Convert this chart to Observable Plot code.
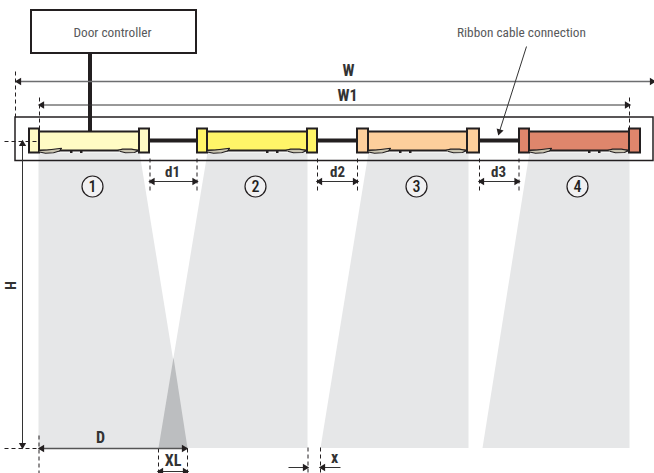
<!DOCTYPE html>
<html><head><meta charset="utf-8">
<script src="https://cdn.jsdelivr.net/npm/d3@7"></script>
<script src="https://cdn.jsdelivr.net/npm/@observablehq/plot@0.6"></script>
<style>html,body{margin:0;padding:0;background:#fff}svg{display:block}</style>
</head><body><div id="chart"></div>
<script>
// Diagram geometry, in reference drawing units
const sensorLabels = ["1","2","3","4"];
const sensorCapLeft = [29,197,357,519];
const sensorBodyLeft = [39,207,368,529];
const sensorBodyRight = [139,307,467,629];
const sensorCapRight = [149,317,479,640];
const sensorFills = ["#fffbc4","#fff568","#fdcf9c","#df866c"];
const circleX = [92,255,416,577];
const beams = [
  [[38,152],[139,152],[187,447.5],[38,447.5]],
  [[207,152],[307,152],[307,447.5],[158,447.5]],
  [[368,152],[468,152],[468,447.5],[320,447.5]],
  [[529,152],[629,152],[629,447.5],[482,447.5]]
];
const overlap = [[173,357],[187,447.5],[158,447.5]];
const cables = [[89.5,53,89.5,131],[149,140,197,140],[317,140,357,140],[479,140,519,140]];
const dashed = [
  [15,71,15,117],[39,97,39,130],[629,97,629,130],
  [4,141,37,141],[4,448,38,448],
  [149.5,158,149.5,192],[196.5,158,196.5,192],
  [317,158,317,192],[357,158,357,192],
  [479,158,479,192],[518.5,158,518.5,192],
  [38.5,435,38.5,473],[158,448,158,473],[187,448,187,473],
  [307.5,447,307.5,473],[320,447,320,473]
];
const dimLines = [
  [16,81,654,81,"#6d6e70",1.6],[39,104.5,629,104.5,"#333",1],
  [22,141,22,447,"#333",1],
  [149.5,181,196.5,181,"#333",1],[317,181,357,181,"#333",1],[479,181,518.5,181,"#333",1],
  [39,448,186,448,"#555",1.4],[158,471,187,471,"#333",1],
  [288,467,307,467,"#333",1],[320,467,340,467,"#333",1],
  [526,46,498,134,"#333",1]
];
// arrow tips: x, y, direction in degrees (0 = up)
const arrowTips = [
  [18.5,81,-90],[651.5,81,90],[41.5,104.5,-90],[626.5,104.5,90],
  [22,143.5,0],[22,444.5,180],
  [152,181,-90],[194,181,90],[319.5,181,-90],[354.5,181,90],[481.5,181,-90],[516,181,90],
  [41.5,448,-90],[183.5,448,90],[160.5,471,-90],[184.5,471,90],
  [304.5,467,90],[322.5,467,-90],[499,131,197]
];
const lensOffsetsLeft = [[0,150],[8,149.5],[22,147.8],[20,150.5],[14,152.3],[6,152.8],[0,151.5]];
const lensOffsetsRight = [[-22,150],[-17,148.6],[-8,148.6],[-1,150],[-5,152],[-14,152.3],[-19,151]];
const tickOffsets = [31,41];
const regularLabels = [
  ["Door controller",112,32,13.3],
  ["Ribbon cable connection",521,32,13.3]
];
const boldLabels = [
  ["W",348,70,16,0],["W1",347,95,16,0],
  ["d1",172,172,15,0],["d2",337,172,15,0],["d3",498,172,15,0],
  ["H",11,285,14,-90],
  ["D",100,437,16,0],["XL",172.5,460,16,0],["x",334,457,16,0]
];
const font = "'Roboto Condensed','Liberation Sans',sans-serif";
const seg = a => ({x1:a[0],y1:a[1],x2:a[2],y2:a[3],c:a[4],w:a[5]});
const ink = "#231f20";

const caps = sensorLabels.flatMap((s,i)=>[
  {x1:sensorCapLeft[i],x2:sensorBodyLeft[i],f:sensorFills[i]},
  {x1:sensorBodyRight[i],x2:sensorCapRight[i],f:sensorFills[i]}]);
const bodies = sensorLabels.map((s,i)=>({x1:sensorBodyLeft[i],x2:sensorBodyRight[i],f:sensorFills[i]}));
const lenses = sensorLabels.flatMap((s,i)=>[
  ...lensOffsetsLeft.map(([d,y])=>({x:sensorBodyLeft[i]+d,y,k:"L"+i})),
  ...lensOffsetsRight.map(([d,y])=>({x:sensorBodyRight[i]+d,y,k:"R"+i}))]);
const ticks = sensorLabels.flatMap((s,i)=>tickOffsets.map(d=>({x:(i%2?sensorBodyRight[i]-d:sensorBodyLeft[i]+d)})));
const circles = sensorLabels.map((s,i)=>({s,x:circleX[i]}));
const polys = beams.flatMap((b,i)=>b.map(([x,y])=>({x,y,k:i})));
const fat = cables.map(seg);

const chart = Plot.plot({
  width:654,height:473,margin:0,
  x:{domain:[0,654],axis:null},
  y:{domain:[473,0],axis:null},
  style:{background:"#fff",fontFamily:font},
  marks:[
    Plot.line(polys,{x:"x",y:"y",z:"k",fill:"#e6e7e8",stroke:null}),
    Plot.line(overlap,{x:d=>d[0],y:d=>d[1],fill:"#bcbec0",stroke:null}),
    Plot.rect([{}],{x1:31,x2:196,y1:10,y2:53,fill:"#fff",stroke:ink,strokeWidth:2}),
    Plot.rect([{}],{x1:15,x2:653,y1:117,y2:160.5,fill:"none",stroke:ink,strokeWidth:1.5}),
    Plot.link(fat,{x1:"x1",y1:"y1",x2:"x2",y2:"y2",stroke:ink,strokeWidth:4}),
    Plot.rect(bodies,{x1:"x1",x2:"x2",y1:131.5,y2:150.5,fill:"f",stroke:ink,strokeWidth:2}),
    Plot.rect(caps,{x1:"x1",x2:"x2",y1:128.5,y2:152.5,fill:"f",stroke:ink,strokeWidth:2}),
    Plot.line(lenses,{x:"x",y:"y",z:"k",fill:"#c8c3b0",stroke:ink,strokeWidth:1.1}),
    Plot.rect(ticks,{x1:"x",x2:d=>d.x+2.5,y1:150,y2:153,fill:ink}),
    Plot.link(dashed.map(seg),{x1:"x1",y1:"y1",x2:"x2",y2:"y2",stroke:ink,strokeWidth:1,strokeDasharray:"4 3"}),
    Plot.link(dimLines.map(seg),{x1:"x1",y1:"y1",x2:"x2",y2:"y2",stroke:"c",strokeWidth:"w"}),
    Plot.dot(arrowTips,{x:d=>d[0],y:d=>d[1],rotate:d=>d[2],symbol:"triangle",r:2.7,fill:ink,stroke:null}),
    Plot.dot(circles,{x:"x",y:186,r:10.5,fill:"#f1f1f2",stroke:ink,strokeWidth:1.2}),
    Plot.text(circles,{x:"x",y:186,text:"s",fontSize:16,fontWeight:500,fill:ink}),
    Plot.text(regularLabels,{x:d=>d[1],y:d=>d[2],text:d=>d[0],fontSize:d=>d[3],fill:"#58595b"}),
    Plot.text(boldLabels,{x:d=>d[1],y:d=>d[2],text:d=>d[0],fontSize:d=>d[3],rotate:d=>d[4],fontWeight:"bold",fill:"#333"})
  ]
});
document.getElementById("chart").append(chart);
</script></body></html>
